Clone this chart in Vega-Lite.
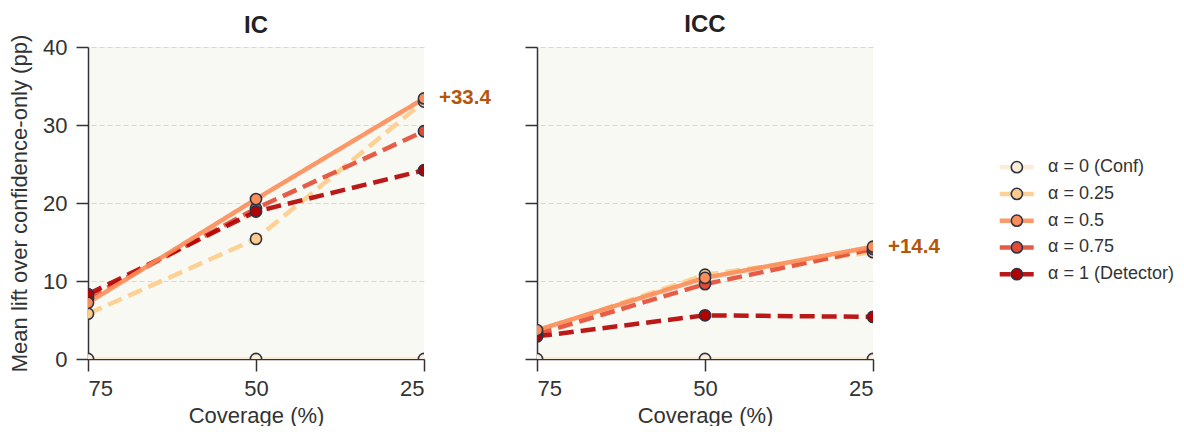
{
  "$schema": "https://vega.github.io/schema/vega-lite/v6.json",
  "background": "white",
  "padding": {"left": 8, "top": 12, "right": 0, "bottom": 0},
  "spacing": 113,
  "bounds": "flush",
  "center": true,
  "data": {"values": [
    {"panel": "IC", "series": "α = 0 (Conf)", "coverage": 75, "lift": 0},
    {"panel": "IC", "series": "α = 0 (Conf)", "coverage": 50, "lift": 0},
    {"panel": "IC", "series": "α = 0 (Conf)", "coverage": 25, "lift": 0},
    {"panel": "IC", "series": "α = 0.25", "coverage": 75, "lift": 5.8},
    {"panel": "IC", "series": "α = 0.25", "coverage": 50, "lift": 15.4},
    {"panel": "IC", "series": "α = 0.25", "coverage": 25, "lift": 33.0},
    {"panel": "IC", "series": "α = 0.75", "coverage": 75, "lift": 7.8},
    {"panel": "IC", "series": "α = 0.75", "coverage": 50, "lift": 19.3},
    {"panel": "IC", "series": "α = 0.75", "coverage": 25, "lift": 29.2},
    {"panel": "IC", "series": "α = 1 (Detector)", "coverage": 75, "lift": 8.3},
    {"panel": "IC", "series": "α = 1 (Detector)", "coverage": 50, "lift": 18.9},
    {"panel": "IC", "series": "α = 1 (Detector)", "coverage": 25, "lift": 24.2},
    {"panel": "IC", "series": "α = 0.5", "coverage": 75, "lift": 7.2},
    {"panel": "IC", "series": "α = 0.5", "coverage": 50, "lift": 20.5},
    {"panel": "IC", "series": "α = 0.5", "coverage": 25, "lift": 33.4},
    {"panel": "ICC", "series": "α = 0 (Conf)", "coverage": 75, "lift": 0},
    {"panel": "ICC", "series": "α = 0 (Conf)", "coverage": 50, "lift": 0},
    {"panel": "ICC", "series": "α = 0 (Conf)", "coverage": 25, "lift": 0},
    {"panel": "ICC", "series": "α = 0.25", "coverage": 75, "lift": 3.5},
    {"panel": "ICC", "series": "α = 0.25", "coverage": 50, "lift": 10.8},
    {"panel": "ICC", "series": "α = 0.25", "coverage": 25, "lift": 13.7},
    {"panel": "ICC", "series": "α = 0.75", "coverage": 75, "lift": 3.2},
    {"panel": "ICC", "series": "α = 0.75", "coverage": 50, "lift": 9.6},
    {"panel": "ICC", "series": "α = 0.75", "coverage": 25, "lift": 14.1},
    {"panel": "ICC", "series": "α = 1 (Detector)", "coverage": 75, "lift": 2.9},
    {"panel": "ICC", "series": "α = 1 (Detector)", "coverage": 50, "lift": 5.6},
    {"panel": "ICC", "series": "α = 1 (Detector)", "coverage": 25, "lift": 5.4},
    {"panel": "ICC", "series": "α = 0.5", "coverage": 75, "lift": 3.7},
    {"panel": "ICC", "series": "α = 0.5", "coverage": 50, "lift": 10.4},
    {"panel": "ICC", "series": "α = 0.5", "coverage": 25, "lift": 14.4}
  ]},
  "resolve": {"scale": {"x": "independent", "y": "independent"}},
  "hconcat": [
    {
      "width": 336, "height": 312,
      "title": {"text": "IC", "dy": 17.5},
      "transform": [{"filter": "datum.panel === 'IC'"}],
      "encoding": {
        "x": {"field": "coverage", "type": "quantitative", "title": "Coverage (%)",
              "scale": {"domain": [25, 75], "reverse": true, "nice": false, "zero": false},
              "axis": {"values": [75, 50, 25], "grid": false, "labelPadding": 7, "titlePadding": 6}},
        "y": {"field": "lift", "type": "quantitative", "title": "Mean lift over confidence-only (pp)",
              "scale": {"domain": [0, 40], "nice": false},
              "axis": {"values": [0, 10, 20, 30, 40], "grid": true, "labelPadding": 9, "titlePadding": 11}}
      },
      "layer": [
        {"mark": {"type": "line", "clip": true, "opacity": 0.9},
         "encoding": {
           "color": {"field": "series", "type": "nominal", "legend": null,
                     "scale": {"domain": ["α = 0 (Conf)", "α = 0.25", "α = 0.5", "α = 0.75", "α = 1 (Detector)"],
                               "range": ["#fdebd3", "#fdcc8a", "#fc8d59", "#e34a33", "#b30000"]}},
           "strokeDash": {"field": "series", "type": "nominal", "legend": null,
                          "scale": {"domain": ["α = 0 (Conf)", "α = 0.25", "α = 0.5", "α = 0.75", "α = 1 (Detector)"],
                                    "range": [[1, 0], [15, 7], [1, 0], [15, 7], [15, 7]]}},
           "strokeWidth": {"field": "series", "type": "nominal", "legend": null,
                           "scale": {"domain": ["α = 0 (Conf)", "α = 0.25", "α = 0.5", "α = 0.75", "α = 1 (Detector)"],
                                     "range": [4.5, 4.5, 7.5, 4.5, 4.5]}}
         }},
        {"mark": {"type": "point", "filled": true, "clip": true, "stroke": "#2d3344", "strokeWidth": 1.6, "opacity": 1},
         "encoding": {
           "fill": {"field": "series", "type": "nominal", "legend": null,
                    "scale": {"domain": ["α = 0 (Conf)", "α = 0.25", "α = 0.5", "α = 0.75", "α = 1 (Detector)"],
                              "range": ["#fdebd3", "#fdcc8a", "#fc8d59", "#e34a33", "#b30000"]}},
           "size": {"field": "series", "type": "nominal", "legend": null,
                    "scale": {"domain": ["α = 0 (Conf)", "α = 0.25", "α = 0.5", "α = 0.75", "α = 1 (Detector)"],
                              "range": [125, 125, 210, 125, 125]}}
         }},
        {"transform": [{"filter": "datum.series === 'α = 0.5' && datum.coverage === 25"}],
         "mark": {"type": "text", "align": "left", "baseline": "middle", "dx": 15, "fontSize": 20.5, "fontWeight": "bold", "color": "#b5570b", "font": "Liberation Sans"},
         "encoding": {"text": {"field": "lift", "type": "quantitative", "format": "+.1f"}}}
      ]
    },
    {
      "width": 336, "height": 312,
      "title": {"text": "ICC", "dy": 4.5},
      "transform": [{"filter": "datum.panel === 'ICC'"}],
      "encoding": {
        "x": {"field": "coverage", "type": "quantitative", "title": "Coverage (%)",
              "scale": {"domain": [25, 75], "reverse": true, "nice": false, "zero": false},
              "axis": {"values": [75, 50, 25], "grid": false, "labelPadding": 7, "titlePadding": 6}},
        "y": {"field": "lift", "type": "quantitative", "title": null,
              "scale": {"domain": [0, 40], "nice": false},
              "axis": {"values": [0, 10, 20, 30, 40], "grid": true, "labels": false}}
      },
      "layer": [
        {"mark": {"type": "line", "clip": true, "opacity": 0.9},
         "encoding": {
           "color": {"field": "series", "type": "nominal", "legend": null},
           "strokeDash": {"field": "series", "type": "nominal", "legend": null},
           "strokeWidth": {"field": "series", "type": "nominal", "legend": null}
         }},
        {"mark": {"type": "point", "filled": true, "clip": true, "stroke": "#2d3344", "strokeWidth": 1.6, "opacity": 1},
         "encoding": {
           "fill": {"field": "series", "type": "nominal", "legend": null},
           "size": {"field": "series", "type": "nominal", "legend": null}
         }},
        {"transform": [{"filter": "datum.series === 'α = 0.5' && datum.coverage === 25"}],
         "mark": {"type": "text", "align": "left", "baseline": "middle", "dx": 15, "fontSize": 20.5, "fontWeight": "bold", "color": "#b5570b", "font": "Liberation Sans"},
         "encoding": {"text": {"field": "lift", "type": "quantitative", "format": "+.1f"}}}
      ]
    },
    {
      "width": 48, "height": 160.5,
      "view": {"fill": null, "stroke": null},
      "transform": [{"filter": "datum.panel === 'IC' && datum.coverage === 75"}],
      "encoding": {
        "y": {"field": "series", "type": "nominal", "axis": null,
              "scale": {"type": "point", "domain": ["α = 0 (Conf)", "α = 0.25", "α = 0.5", "α = 0.75", "α = 1 (Detector)"], "padding": 1, "align": 0.83}}
      },
      "layer": [
        {"mark": {"type": "rule", "opacity": 0.9},
         "encoding": {
           "x": {"datum": 0, "type": "quantitative", "scale": {"domain": [-0.4, 1], "nice": false, "zero": false}, "axis": null},
           "x2": {"datum": 1},
           "color": {"field": "series", "type": "nominal", "legend": null},
           "strokeDash": {"value": [11, 12]},
           "strokeWidth": {"field": "series", "type": "nominal", "legend": null}
         }},
        {"mark": {"type": "point", "filled": true, "stroke": "#2d3344", "strokeWidth": 1.6, "opacity": 1},
         "encoding": {
           "x": {"datum": 0.5, "type": "quantitative"},
           "fill": {"field": "series", "type": "nominal", "legend": null},
           "size": {"field": "series", "type": "nominal", "legend": null}
         }},
        {"mark": {"type": "text", "align": "left", "baseline": "middle", "dx": 14, "fontSize": 18, "color": "#333333", "font": "Liberation Sans"},
         "encoding": {
           "x": {"datum": 1, "type": "quantitative"},
           "text": {"field": "series", "type": "nominal"}
         }}
      ]
    }
  ],
  "config": {
    "font": "Liberation Sans",
    "view": {"fill": "#f9f9f4", "stroke": null},
    "title": {"fontSize": 24, "fontWeight": "bold", "color": "#222222", "font": "Liberation Sans", "offset": 14, "frame": "group", "baseline": "alphabetic"},
    "axis": {
      "domainColor": "#333333", "tickColor": "#333333", "domainWidth": 1.5, "tickWidth": 1.5, "tickSize": 12,
      "labelFontSize": 22, "titleFontSize": 22, "labelColor": "#333333", "titleColor": "#333333",
      "labelFont": "Liberation Sans", "titleFont": "Liberation Sans", "titleFontWeight": "normal",
      "gridColor": "#d3d6e4", "gridDash": [5, 3], "gridWidth": 1
    }
  }
}
